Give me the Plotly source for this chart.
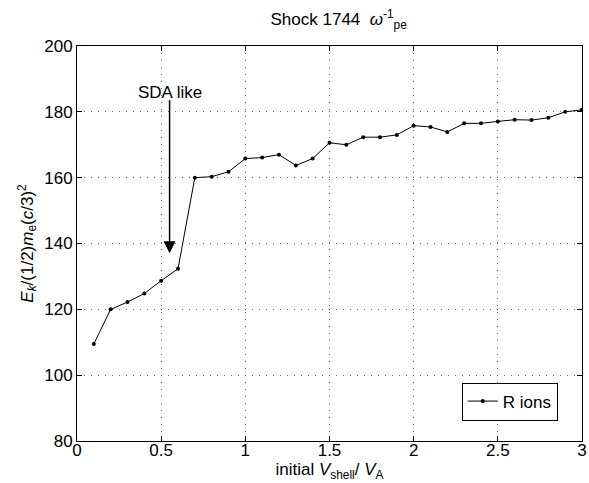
import plotly.graph_objects as go

x_vals = [0.1, 0.2, 0.3, 0.4, 0.5, 0.6, 0.7, 0.8, 0.9, 1.0,
          1.1, 1.2, 1.3, 1.4, 1.5, 1.6, 1.7, 1.8, 1.9, 2.0,
          2.1, 2.2, 2.3, 2.4, 2.5, 2.6, 2.7, 2.8, 2.9, 3.0]
ek_vals = [109.5, 120.0, 122.2, 124.8, 128.7, 132.3, 160.0, 160.3, 161.8, 165.8,
           166.1, 167.0, 163.7, 165.8, 170.6, 170.0, 172.3, 172.3, 173.0, 175.8,
           175.4, 173.9, 176.5, 176.5, 177.1, 177.6, 177.5, 178.2, 180.0, 180.6]
series_name = "R ions"
x_ticks = [0, 0.5, 1, 1.5, 2, 2.5, 3]
x_tick_text = ["0", "0.5", "1", "1.5", "2", "2.5", "3"]
y_ticks = [80, 100, 120, 140, 160, 180, 200]

FONT = "Liberation Sans, Arial, sans-serif"
FS = 17

fig = go.Figure()
fig.add_trace(go.Scatter(
    x=x_vals, y=ek_vals, mode="lines+markers", name=series_name,
    line=dict(color="black", width=1),
    marker=dict(color="black", size=4),
))

axis_common = dict(
    showline=True, linecolor="black", linewidth=1, mirror="ticks",
    ticks="inside", ticklen=5, tickcolor="black",
    showgrid=True, gridcolor="#666666", griddash="1px,6px", gridwidth=1,
    zeroline=False, tickfont=dict(family=FONT, size=FS, color="black"),
)

fig.update_xaxes(range=[0, 3], tickvals=x_ticks, ticktext=x_tick_text,
                 ticklabelstandoff=-6,
                 title=dict(text="initial <i>V</i><sub>shell</sub>/ <i>V</i><sub>A</sub>",
                            font=dict(family=FONT, size=FS, color="black"), standoff=0),
                 **axis_common)
fig.update_yaxes(range=[80, 200], tickvals=y_ticks,
                 title=dict(text="<i>E<sub>k</sub></i>/(1/2)<i>m</i><sub>e</sub>(<i>c</i>/3)<sup>2</sup>",
                            font=dict(family=FONT, size=FS, color="black"), standoff=6),
                 **axis_common)

fig.add_annotation(x=0.55, y=137, ax=0.55, ay=184, xref="x", yref="y", axref="x", ayref="y",
                   text="", showarrow=True, arrowhead=2, arrowsize=1.6, arrowwidth=1.5,
                   arrowcolor="black")
fig.add_annotation(x=0.55, y=186, xref="x", yref="y", text="SDA like", showarrow=False,
                   font=dict(family=FONT, size=FS, color="black"))

fig.update_layout(
    width=589, height=483,
    margin=dict(l=77, r=7, t=46, b=42, autoexpand=False),
    paper_bgcolor="white", plot_bgcolor="white",
    title=dict(text="Shock 1744  <i>ω</i><sup>-1</sup><sub>pe</sub>", x=0.575, xanchor="center",
               y=0.96, yanchor="middle",
               font=dict(family=FONT, size=FS, color="black")),
    legend=dict(x=0.952, y=0.148, xanchor="right", yanchor="top",
                bordercolor="black", borderwidth=1, bgcolor="white",
                font=dict(family=FONT, size=FS, color="black"),
                itemwidth=30),
    showlegend=True,
)

fig.write_html("out.html")
